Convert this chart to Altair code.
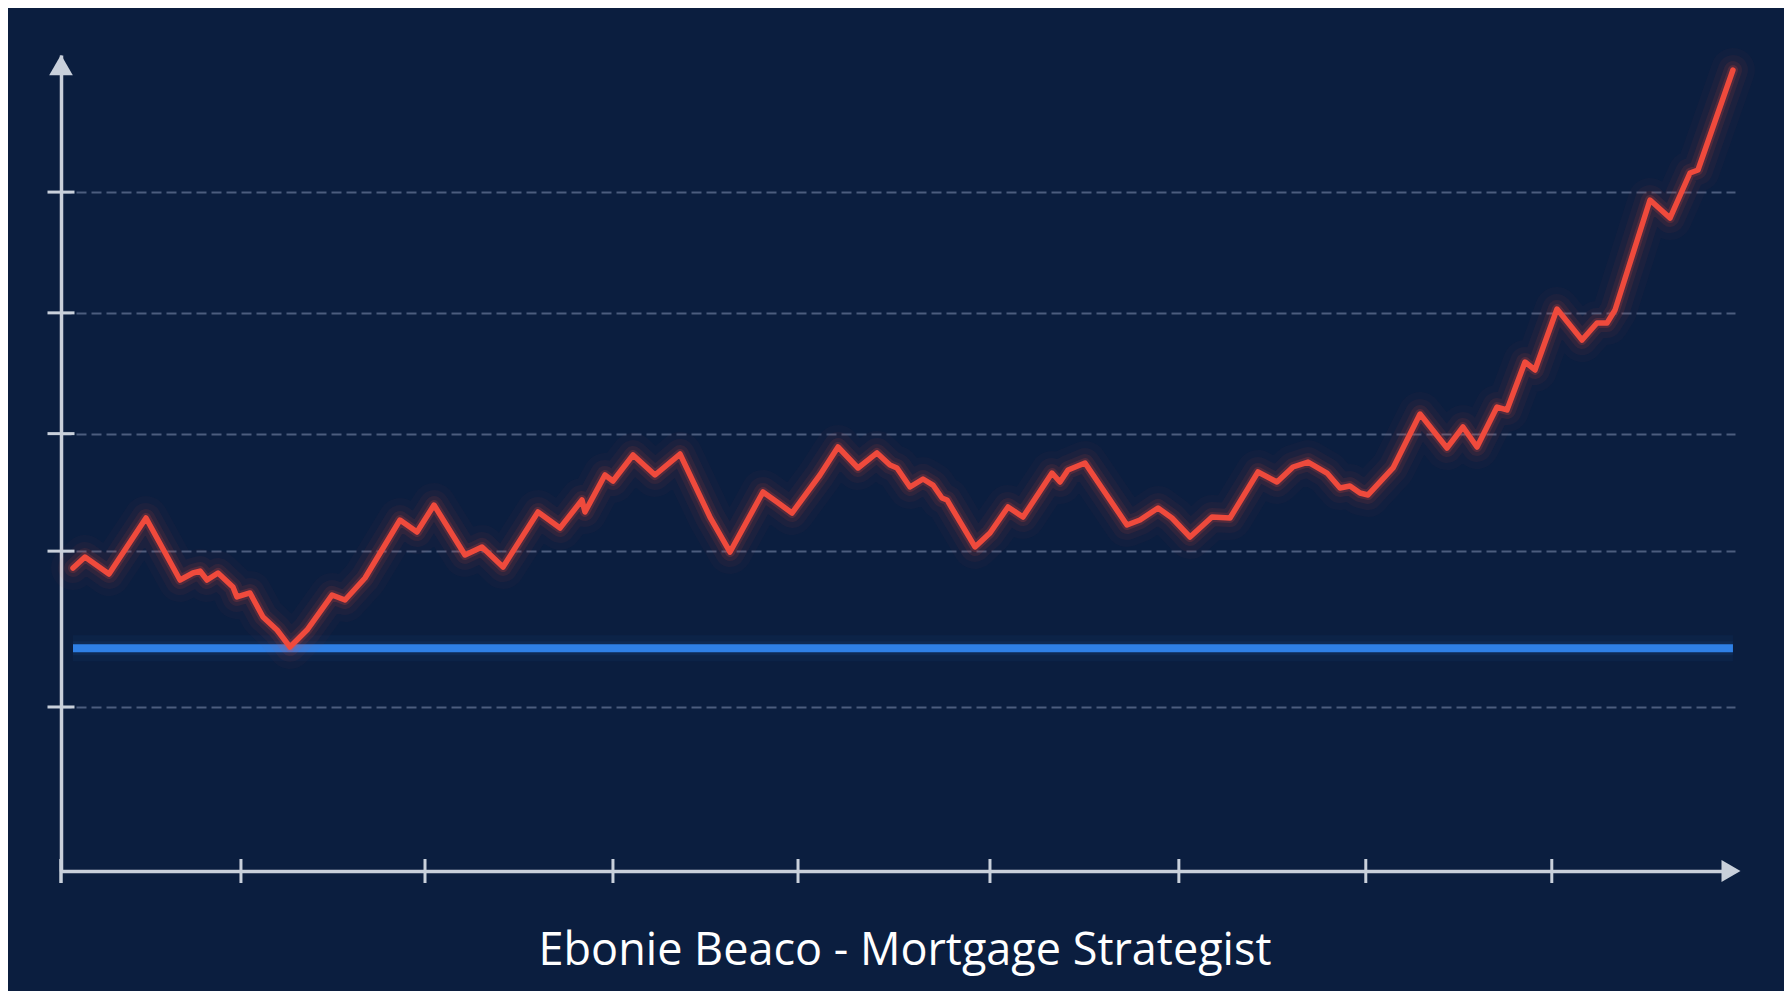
import altair as alt
import pandas as pd

# ---- data ----
x_vals = [1.29, 2.58, 5.16, 9.14, 12.80, 14.19, 14.95, 15.70, 16.88, 18.49, 18.92, 20.32,
          21.72, 23.23, 24.62, 26.45, 29.14, 30.54, 32.69, 36.45, 38.28, 40.11, 43.44, 45.27,
          47.53, 51.29, 53.66, 56.02, 56.34, 58.49, 59.35, 61.51, 63.87, 66.56, 69.78, 71.94,
          75.48, 76.99, 78.60, 81.61, 83.55, 85.70, 87.74, 89.14, 89.89, 91.29, 92.69, 93.76,
          94.73, 95.27, 98.28, 99.89, 101.83, 103.44, 106.56, 107.42, 108.28, 110.11, 114.62,
          116.02, 117.96, 119.46, 121.40, 123.76, 125.70, 128.71, 130.75, 132.47, 134.09,
          136.13, 137.53, 138.60, 139.68, 140.54, 143.23, 146.13, 149.03, 150.75, 152.26,
          154.41, 155.48, 157.42, 158.49, 160.86, 163.55, 165.16, 166.24, 167.10, 170.86,
          173.01, 175.16, 176.02, 179.78]
y_vals = [37.13, 38.48, 36.40, 43.26, 35.66, 36.52, 36.76, 35.66, 36.52, 34.80, 33.58, 34.07,
          31.13, 29.53, 27.45, 29.53, 33.82, 33.21, 35.91, 43.01, 41.54, 44.85, 38.73, 39.71,
          37.25, 44.00, 42.03, 45.47, 44.00, 48.53, 47.79, 50.98, 48.53, 51.10, 43.38, 39.09,
          46.45, 45.22, 43.87, 48.53, 51.96, 49.39, 51.23, 49.75, 49.39, 47.06, 48.04, 47.30,
          45.71, 45.47, 39.71, 41.42, 44.61, 43.38, 48.77, 47.67, 49.14, 50.00, 42.40,
          43.01, 44.49, 43.26, 40.93, 43.38, 43.26, 48.90, 47.67, 49.51, 50.12,
          48.77, 46.94, 47.18, 46.32, 46.08, 49.39, 56.00, 51.84, 54.41, 51.96,
          56.86, 56.50, 62.38, 61.40, 68.87, 65.07, 67.16, 67.16, 68.75, 82.23,
          80.02, 85.54, 85.91, 98.16]
floor_level = 27.3
grid_levels = [20.1, 39.2, 53.6, 68.4, 83.2]
x_ticks = [19.35, 39.14, 59.35, 79.25, 99.89, 120.2, 140.3, 160.3]
title_text = "Ebonie Beaco - Mortgage Strategist"

X_DOMAIN = [0, 180]
Y_DOMAIN = [0, 100]

# ---- styles ----
BG = "#0b1e3f"
AXIS_COL = "#c9d0db"
GRID_COL = "#4c5d7e"
RED = "#ef4a3c"
BLUE = "#2f80e6"
W, H = 1674, 816

line_df = pd.DataFrame({"x": x_vals, "y": y_vals})
floor_df = pd.DataFrame({"x": [x_vals[0]], "x2": [x_vals[-1]], "y": [floor_level]})
grid_df = pd.DataFrame({"y": grid_levels})
xtick_df = pd.DataFrame({"x": x_ticks})

xs = alt.Scale(domain=X_DOMAIN, nice=False, zero=False)
ys = alt.Scale(domain=Y_DOMAIN, nice=False, zero=False)
xaxis = alt.Axis(domain=True, domainColor=AXIS_COL, domainWidth=3.5, ticks=False,
                 labels=False, grid=False, title=None)
yaxis = alt.Axis(domain=True, domainColor=AXIS_COL, domainWidth=3.5, ticks=False,
                 labels=False, grid=True, values=grid_levels, gridDash=[10, 5],
                 gridColor=GRID_COL, gridWidth=2, title=None)

X = lambda f: alt.X(f, scale=xs, axis=xaxis)
Y = lambda f: alt.Y(f, scale=ys, axis=yaxis)

# blue floor line with glow
floor_glow = alt.Chart(floor_df).mark_rule(color=BLUE, strokeWidth=26, opacity=0.05, clip=False).encode(
    x=X("x:Q"), x2="x2:Q", y=Y("y:Q"))
floor_glow2 = alt.Chart(floor_df).mark_rule(color=BLUE, strokeWidth=14, opacity=0.08, clip=False).encode(
    x=X("x:Q"), x2="x2:Q", y=Y("y:Q"))
floor = alt.Chart(floor_df).mark_rule(color=BLUE, strokeWidth=8, clip=False).encode(
    x=X("x:Q"), x2="x2:Q", y=Y("y:Q"))

# red series with glow
def red_layer(width, opacity):
    return alt.Chart(line_df).mark_line(color=RED, strokeWidth=width, opacity=opacity,
                                        strokeJoin="round", strokeCap="round", clip=False).encode(
        x=X("x:Q"), y=Y("y:Q"), order="x:Q")

glow4 = red_layer(44, 0.03)
glow3 = red_layer(30, 0.05)
glow2 = red_layer(18, 0.09)
glow1 = red_layer(10, 0.18)
core = red_layer(5.5, 1.0)

# axis ticks crossing the axes
yticks = alt.Chart(grid_df).mark_tick(orient="horizontal", size=27, thickness=3,
                                      color=AXIS_COL, opacity=1, clip=False).encode(
    x=alt.X(datum=X_DOMAIN[0], scale=xs, axis=xaxis), y=Y("y:Q"))
xticks = alt.Chart(xtick_df).mark_tick(orient="vertical", size=24, thickness=3,
                                       color=AXIS_COL, opacity=1, clip=False).encode(
    x=X("x:Q"), y=alt.Y(datum=Y_DOMAIN[0], scale=ys, axis=yaxis))
origin_tick = alt.Chart(pd.DataFrame({"k": [0]})).mark_tick(
    orient="vertical", size=24, thickness=3.5, color=AXIS_COL, opacity=1, clip=False).encode(
    x=alt.X(datum=X_DOMAIN[0], scale=xs, axis=xaxis),
    y=alt.Y(datum=Y_DOMAIN[0], scale=ys, axis=yaxis))

# axis arrow heads
y_arrow = alt.Chart(pd.DataFrame({"k": [0]})).mark_point(
    shape="triangle-up", filled=True, size=560, color=AXIS_COL, opacity=1,
    strokeWidth=0, yOffset=10, clip=False).encode(
    x=alt.X(datum=X_DOMAIN[0], scale=xs, axis=xaxis),
    y=alt.Y(datum=Y_DOMAIN[1], scale=ys, axis=yaxis))
x_arrow = alt.Chart(pd.DataFrame({"k": [0]})).mark_point(
    shape="triangle-right", filled=True, size=480, color=AXIS_COL, opacity=1,
    strokeWidth=0, xOffset=-4, clip=False).encode(
    x=alt.X(datum=X_DOMAIN[1], scale=xs, axis=xaxis),
    y=alt.Y(datum=Y_DOMAIN[0], scale=ys, axis=yaxis))

chart = alt.layer(
    floor_glow, floor_glow2, floor, glow4, glow3, glow2, glow1, core,
    yticks, xticks, origin_tick, y_arrow, x_arrow
).properties(
    width=W, height=H,
    title=alt.TitleParams(text=title_text, orient="bottom", anchor="middle",
                          fontSize=45, font="Open Sans", fontWeight="normal",
                          color="#ffffff", offset=46, dx=7),
    padding={"left": 53, "top": 47, "right": 49, "bottom": 120},
    autosize=alt.AutoSizeParams(type="none"),
    background=BG,
).configure_view(stroke=None)

chart.save("out.html", embed_options={"renderer": "svg", "actions": False})
